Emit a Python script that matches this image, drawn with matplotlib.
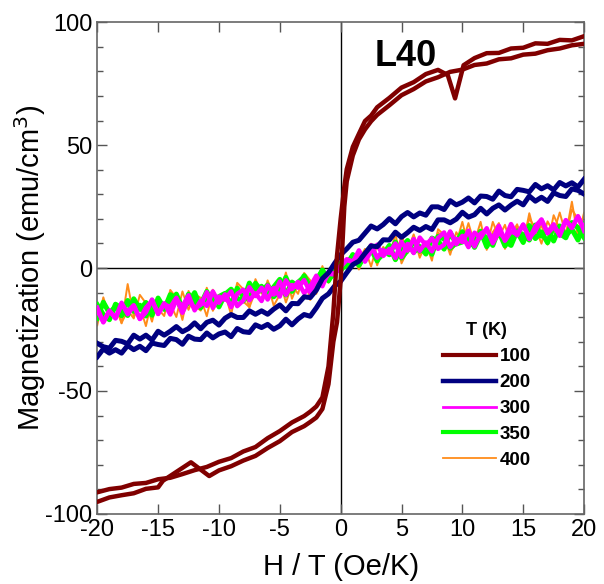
import numpy as np
import matplotlib
matplotlib.use("Agg")
import matplotlib.pyplot as plt
from matplotlib.ticker import MultipleLocator

plt.rcParams['font.family'] = ['Liberation Sans', 'DejaVu Sans']
plt.rcParams['axes.unicode_minus'] = False

# field grid (Oe/K), 0.5 steps from -20 to 20
H_fine = np.arange(-20, 20.5, 0.5)

# 300 K
m300_a = [-16.1, -22.1, -17.4, -20.3, -14.1, -18.8, -15.4, -20.7, -16.1, -13.3,
          -18.6, -14.3, -18.9, -12.9, -15.6, -11.1, -17.2, -13.3, -15.4, -9.5,
          -14.1, -10.7, -15.9, -10.5, -8.8, -13.1, -10.3, -13.4, -7.1, -10.8,
          -5.5, -10.9, -6.9, -8.0, -4.9, -9.9, -4.6, -6.0, -2.4, -2.6,
          0.5, 3.3, 2.4, 7.2, 2.6, 6.9, 9.5, 4.9, 7.8, 4.1,
          10.6, 7.1, 11.8, 7.0, 10.4, 6.8, 12.2, 14.5, 8.5, 11.9,
          10.6, 15.2, 8.8, 14.0, 15.4, 11.9, 17.2, 11.1, 14.9, 13.7,
          17.7, 11.8, 17.0, 19.7, 14.1, 16.7, 13.9, 19.5, 16.3, 20.9, 16.2]
m300_b = [-17.2, -21.9, -17.3, -20.5, -14.9, -17.7, -15.1, -20.7, -18.0, -12.8,
          -18.7, -14.7, -15.9, -12.1, -18.2, -12.9, -16.4, -15.0, -9.8, -16.2,
          -11.6, -12.9, -9.5, -15.5, -13.2, -7.8, -11.4, -8.0, -12.8, -8.1,
          -11.6, -5.0, -8.6, -5.6, -10.2, -7.5, -3.1, -7.4, -1.6, -2.3,
          1.0, 3.6, 2.6, 5.8, 4.1, 9.3, 4.2, 7.3, 6.1, 10.0,
          4.5, 9.8, 6.1, 12.4, 9.3, 12.1, 7.8, 9.5, 14.9, 9.7,
          13.1, 8.5, 14.4, 12.3, 16.2, 10.1, 14.6, 11.9, 17.9, 13.3,
          17.6, 12.3, 15.1, 19.7, 14.4, 17.8, 13.1, 19.3, 16.4, 21.1, 15.1]

# 350 K
m350_a = [-14.9, -18.9, -21.0, -14.7, -16.3, -19.3, -12.5, -16.8, -14.0, -19.2,
          -12.2, -16.4, -14.0, -10.6, -16.3, -14.1, -10.0, -16.2, -11.5, -10.3,
          -15.8, -10.7, -8.6, -12.3, -13.4, -6.1, -9.9, -7.4, -11.5, -7.7,
          -4.6, -11.0, -5.7, -7.5, -3.1, -7.7, -4.8, -1.0, -4.8, -2.0,
          2.0, 0.4, 5.5, 1.1, 5.8, 9.0, 3.4, 5.6, 9.2, 3.4,
          8.5, 11.2, 6.4, 8.8, 5.7, 12.2, 11.1, 7.7, 14.5, 9.8,
          10.6, 13.5, 8.4, 13.6, 12.5, 9.2, 15.8, 10.9, 9.2, 15.1,
          13.5, 11.4, 17.5, 13.0, 15.4, 11.0, 17.1, 13.3, 15.8, 11.4, 17.9]
m350_b = [-20.4, -13.9, -18.3, -15.7, -19.4, -13.2, -17.6, -15.1, -19.5, -13.3,
          -15.3, -16.8, -10.8, -12.5, -17.3, -10.6, -13.8, -14.8, -9.5, -14.6,
          -11.6, -10.3, -15.0, -8.2, -11.6, -12.7, -6.2, -9.3, -6.9, -11.7,
          -9.0, -3.8, -9.5, -5.8, -3.6, -9.1, -5.8, -0.8, -5.2, -0.4,
          -1.0, 2.0, 5.1, 1.3, 4.8, 7.6, 2.9, 7.3, 5.4, 10.6,
          4.1, 7.2, 11.0, 6.9, 9.4, 5.6, 12.9, 11.8, 8.1, 10.2,
          14.8, 9.2, 10.4, 15.0, 8.7, 12.7, 14.8, 9.0, 12.4, 14.7,
          10.4, 17.3, 12.0, 14.7, 10.3, 17.1, 14.0, 12.3, 18.5, 16.4, 12.4]

# 400 K
m400_a = [-23.3, -11.9, -20.0, -15.6, -22.5, -6.5, -19.7, -15.5, -23.6, -12.7,
          -16.5, -19.5, -8.9, -12.2, -21.1, -9.3, -15.3, -17.3, -8.0, -17.4,
          -12.3, -10.3, -19.0, -7.1, -13.6, -15.9, -4.5, -10.4, -6.4, -15.3,
          -10.8, -1.8, -12.5, -6.2, -2.7, -13.0, -7.4, 0.8, -6.0, -1.0,
          -1.4, 2.5, 5.4, -0.6, 5.1, 9.9, 1.1, 8.6, 4.9, 13.9,
          1.9, 7.1, 13.7, 6.0, 10.1, 3.0, 15.8, 13.5, 6.5, 10.0,
          18.8, 8.7, 10.6, 18.8, 7.4, 14.6, 18.3, 7.8, 13.7, 17.8,
          10.0, 22.3, 12.7, 17.5, 9.5, 21.5, 15.9, 12.8, 23.9, 19.9, 12.4]
m400_b = [-21.8, -13.7, -20.2, -14.3, -22.3, -17.2, -20.5, -10.9, -14.3, -21.8,
          -11.7, -17.2, -14.6, -19.9, -9.5, -17.0, -10.7, -12.1, -19.6, -8.8,
          -15.3, -12.1, -16.5, -6.0, -8.6, -16.0, -9.3, -13.7, -5.0, -11.4,
          -5.0, -14.0, -7.0, -10.5, -2.0, -5.0, -10.5, -1.2, -5.2, -1.0,
          0.4, 1.5, 5.1, 3.3, 7.8, 0.6, 9.6, 6.0, 9.0, 3.8,
          13.5, 6.1, 13.1, 4.2, 10.1, 6.7, 14.4, 12.8, 5.4, 14.6,
          10.2, 18.3, 9.8, 13.9, 8.4, 18.8, 12.5, 17.6, 8.9, 17.0,
          11.0, 20.1, 16.4, 9.9, 19.0, 14.5, 22.6, 13.6, 27.0, 12.4, 22.5]

# 200 K
m200_down = [-30.6, -32.0, -32.6, -29.4, -29.8, -30.8, -27.3, -28.9, -27.3, -29.3,
             -25.7, -27.3, -25.7, -23.8, -25.9, -24.6, -22.3, -24.7, -22.1, -21.2,
             -23.2, -20.4, -18.9, -20.1, -20.1, -17.4, -18.8, -17.4, -18.8, -16.7,
             -15.0, -17.4, -14.4, -14.5, -11.7, -12.0, -9.0, -4.3, -1.9, 1.9,
             5.4, 7.8, 10.5, 11.3, 14.2, 17.1, 15.9, 17.7, 20.1, 18.0,
             20.9, 22.6, 20.8, 22.4, 21.5, 24.9, 24.9, 23.8, 27.4, 25.7,
             26.8, 28.5, 26.5, 29.3, 29.1, 28.0, 31.3, 29.5, 29.0, 32.0,
             31.6, 31.0, 34.0, 32.2, 33.5, 31.8, 34.8, 33.4, 34.7, 33.0, 36.1]
m200_up = [-36.1, -32.9, -34.6, -33.2, -34.6, -31.5, -33.2, -31.8, -33.6, -30.5,
           -31.1, -31.5, -28.6, -29.1, -31.0, -27.7, -28.9, -29.1, -26.4, -28.4,
           -26.8, -26.0, -27.9, -24.6, -25.9, -26.2, -23.1, -24.2, -22.9, -24.9,
           -23.5, -20.8, -23.1, -20.7, -18.9, -19.6, -16.2, -12.3, -10.5, -7.3,
           -5.4, -1.9, 1.4, 2.8, 6.0, 9.0, 8.7, 11.5, 11.4, 14.6,
           12.5, 14.4, 16.6, 15.3, 16.9, 15.7, 19.6, 19.6, 18.4, 19.9,
           22.7, 20.7, 21.7, 24.3, 22.0, 24.3, 25.7, 23.6, 25.6, 27.2,
           25.7, 29.3, 27.2, 28.8, 27.1, 30.6, 29.5, 29.1, 32.2, 31.6, 30.1]

# 100 K
H_100_down = [20, 19, 18, 17, 16, 15, 14, 13, 12, 11, 10.1, 9.4, 8.8, 8, 7, 6, 5, 4, 3,
              2.5, 2, 1.5, 1, 0.5, 0.3, 0, -0.3, -0.6, -1, -1.5, -2, -2.5, -3, -4, -5,
              -6, -7, -8, -9, -10, -11, -12, -13, -14, -15, -16, -17, -18, -19, -20]
m100_down = [94.3, 92.6, 92.8, 91.2, 91.4, 89.6, 89.3, 87.5, 87.4, 85.4, 82.5, 69.0, 78.5,
             80.6, 78.9, 75.6, 73.4, 69.2, 65.4, 62.0, 59.8, 54.6, 49.3, 40.2, 33.0, 20.0,
             5.0, -18.0, -40.0, -52.6, -56.3, -58.4, -60.2, -62.8, -66.3, -69.2, -72.8,
             -74.6, -77.3, -78.8, -80.9, -82.2, -83.8, -85.3, -85.9, -87.4, -87.8, -89.3,
             -89.9, -91.2]
H_100_up = [-20, -19, -18, -17, -16, -15, -14.6, -12.3, -10.8, -10, -9, -8, -7, -6, -5,
            -4, -3, -2.5, -2, -1.5, -1, -0.6, -0.3, 0, 0.3, 0.5, 1, 1.5, 2, 2.5, 3, 4, 5,
            6, 7, 8, 9, 10, 11, 12, 13, 14, 15, 16, 17, 18, 19, 20]
m100_up = [-95.1, -93.3, -92.4, -91.6, -89.8, -89.2, -86.5, -79.0, -84.6, -82.3, -80.6,
           -78.3, -76.4, -73.2, -70.4, -66.7, -64.3, -62.6, -60.8, -57.3, -47.2, -30.0,
           -22.0, -5.0, 25.0, 35.3, 45.8, 52.3, 56.4, 59.7, 62.3, 66.2, 70.3, 72.8, 75.9,
           77.6, 79.8, 80.7, 82.6, 83.2, 84.9, 85.3, 86.8, 87.2, 88.6, 89.3, 90.6, 91.2]

temps = ['100', '200', '300', '350', '400']
colors = ['#800000', '#000080', '#ff00ff', '#00ff00', '#ff8c1a']

fig = plt.figure(figsize=(6.04, 5.84), dpi=100)
ax = fig.add_axes([0.161, 0.12, 0.806, 0.842])

ax.axhline(0, color='black', lw=1.0, zorder=1)
ax.axvline(0, color='black', lw=1.0, zorder=1)

l400, = ax.plot(H_fine, m400_a, color=colors[4], lw=1.4, zorder=2)
ax.plot(H_fine, m400_b, color=colors[4], lw=1.4, zorder=2)
l350, = ax.plot(H_fine, m350_a, color=colors[3], lw=3.6, zorder=3)
ax.plot(H_fine, m350_b, color=colors[3], lw=3.6, zorder=3)
l300, = ax.plot(H_fine, m300_a, color=colors[2], lw=3.2, zorder=4)
ax.plot(H_fine, m300_b, color=colors[2], lw=3.2, zorder=4)
l200, = ax.plot(H_fine, m200_down, color=colors[1], lw=3.6, zorder=5)
ax.plot(H_fine, m200_up, color=colors[1], lw=3.6, zorder=5)
l100, = ax.plot(H_100_down, m100_down, color=colors[0], lw=3.2, zorder=6)
ax.plot(H_100_up, m100_up, color=colors[0], lw=3.2, zorder=6)

ax.set_xlim(-20, 20)
ax.set_ylim(-100, 100)
ax.xaxis.set_major_locator(MultipleLocator(5))
ax.yaxis.set_major_locator(MultipleLocator(50))
ax.yaxis.set_minor_locator(MultipleLocator(10))
ax.tick_params(which='both', direction='in', top=True, right=True,
               labelsize=17, color='#555555')
ax.tick_params(which='major', length=7, width=1.0)
ax.tick_params(which='minor', length=4, width=1.0)
for s in ax.spines.values():
    s.set_color('#666666')
    s.set_linewidth(1.2)

ax.set_xlabel('H / T (Oe/K)', fontsize=21, labelpad=9)
ax.set_ylabel('Magnetization (emu/cm$^3$)', fontsize=21, labelpad=-2)

ax.text(2.8, 82, 'L40', fontsize=26, fontweight='bold')

leg = ax.legend([l100, l200, l300, l350, l400], temps,
                title='T (K)', loc='upper left', bbox_to_anchor=(0.676, 0.424),
                frameon=False, handlelength=2.8, handletextpad=0.2, labelspacing=0.47,
                prop={'weight': 'bold', 'size': 13.5},
                title_fontproperties={'weight': 'bold', 'size': 13})
# legend handles: thinner for 300 K and 400 K, as in the figure
for h, w in zip(leg.get_lines(), [3.0, 3.2, 2.0, 3.0, 1.3]):
    h.set_linewidth(w)

fig.savefig('out.png', dpi=100)
